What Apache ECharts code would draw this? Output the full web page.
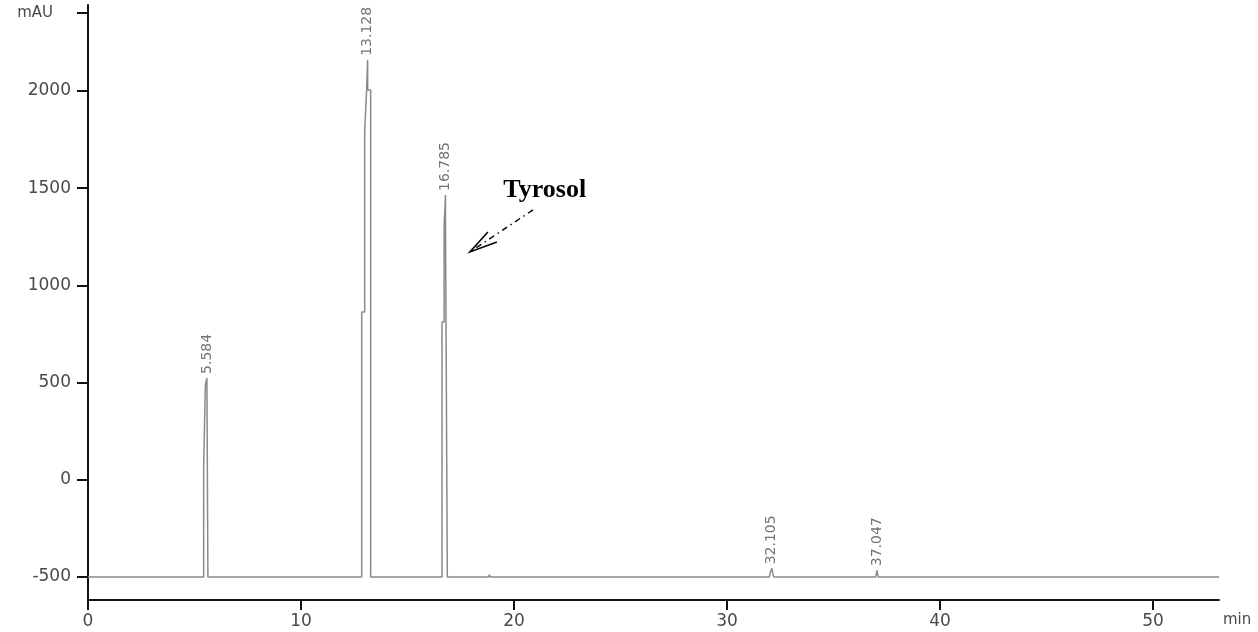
<!DOCTYPE html>
<html>
<head>
<meta charset="utf-8">
<title>Chromatogram – Tyrosol</title>
<script src="https://cdn.jsdelivr.net/npm/echarts@6/dist/echarts.min.js"></script>
<style>
  html, body { margin: 0; padding: 0; background: #ffffff; }
  #chart { width: 1258px; height: 632px; }
</style>
</head>
<body>
<div id="chart"></div>
<script>
// Detector baseline and run length (min)
const baselineLevel = -500;
const runEnd = 53.1;

// Retention times (min) printed above each peak, and apex signal (mAU)
const retentionTimes = [5.584, 13.128, 16.785, 32.105, 37.047];
const apexHeights = [524, 2160, 1465, -455, -465];

const peak1 = [[5.43, -500], [5.43, 60], [5.51, 60], [5.51, 488], [5.584, 488], [5.584, 524], [5.584, 488], [5.63, 488], [5.63, -500]];
const peak2 = [[12.85, -500], [12.85, 863], [12.99, 863], [12.99, 1789], [13.08, 1789], [13.08, 2005], [13.128, 2005], [13.128, 2160], [13.128, 2005], [13.27, 2005], [13.27, -500]];
const peak3 = [[16.62, -500], [16.62, 812], [16.72, 812], [16.72, 1311], [16.785, 1311], [16.785, 1465], [16.785, 1311], [16.87, 1311], [16.87, -500]];
const peak4 = [[31.98, -500], [32.05, -472], [32.105, -455], [32.16, -485], [32.2, -500]];
const peak5 = [[36.98, -500], [37.047, -465], [37.1, -500]];

// Small baseline disturbances
const minorBumps = [[18.8, -500], [18.85, -489], [18.9, -500], [23.95, -500], [24.0, -493], [24.05, -500],
                    [28.45, -500], [28.5, -493], [28.55, -500], [33.75, -500], [33.8, -493], [33.85, -500]];

// Axis ticks
const yTicks = [-500, 0, 500, 1000, 1500, 2000, 2400];
const yUnitTick = 2400;
const yUnit = 'mAU';
const xTicks = [0, 10, 20, 30, 40, 50];
const xUnit = 'min';

// Annotation
const annotationText = 'Tyrosol';
const annotationAnchor = [19.5, 1490];
const arrowFrom = [20.89, 1388];
const arrowTo = [17.93, 1172];

const trace = [[0, baselineLevel]]
  .concat(peak1, peak2, peak3, minorBumps, peak4, peak5, [[runEnd, baselineLevel]])
  .sort((a, b) => a[0] - b[0]);

const labelFont = 'DejaVu Sans, Arial, sans-serif';
const axisTextColor = '#4a4a4a';

const chart = echarts.init(document.getElementById('chart'), null, { renderer: 'canvas' });

const option = {
  animation: false,
  backgroundColor: '#ffffff',
  grid: { left: 88, right: 39, top: 5, bottom: 32 },
  xAxis: {
    type: 'value',
    min: 0,
    max: runEnd,
    name: xUnit,
    nameLocation: 'end',
    nameGap: 4,
    nameTextStyle: {
      fontFamily: labelFont, fontSize: 15, color: axisTextColor,
      verticalAlign: 'top', align: 'left', padding: [13, 0, 0, 0]
    },
    axisLine: { onZero: false, lineStyle: { color: '#111', width: 2 } },
    axisTick: { show: true, length: 10, inside: false, customValues: xTicks, lineStyle: { color: '#111', width: 2 } },
    axisLabel: { customValues: xTicks, margin: 13, fontFamily: labelFont, fontSize: 17, color: axisTextColor },
    splitLine: { show: false }
  },
  yAxis: {
    type: 'value',
    min: -618,
    max: 2442,
    axisLine: { onZero: false, lineStyle: { color: '#111', width: 2 } },
    axisTick: { show: true, length: 11, customValues: yTicks, lineStyle: { color: '#111', width: 2 } },
    axisLabel: {
      customValues: yTicks,
      margin: 17,
      fontFamily: labelFont, fontSize: 17, color: axisTextColor,
      formatter: v => (v === yUnitTick ? '{u|' + yUnit + '}' : String(v)),
      rich: {
        u: { fontFamily: labelFont, fontSize: 15, color: axisTextColor, padding: [0, 18, 0, 0] }
      }
    },
    splitLine: { show: false }
  },
  series: [
    {
      name: 'signal',
      type: 'line',
      data: trace,
      showSymbol: false,
      symbol: 'none',
      lineStyle: { color: '#8a8a8a', width: 1.5 },
      silent: true,
      z: 2
    },
    {
      name: 'retention times',
      type: 'scatter',
      data: retentionTimes.map((t, i) => [t, apexHeights[i]]),
      symbolSize: 0,
      silent: true,
      label: {
        show: true,
        position: 'top',
        distance: 4,
        rotate: 90,
        align: 'left',
        verticalAlign: 'middle',
        fontFamily: labelFont,
        fontSize: 14,
        color: '#505050',
        formatter: p => p.value[0].toFixed(3)
      },
      z: 3
    }
  ]
};

chart.setOption(option);

// Annotation arrow and name, placed in data coordinates
const px = c => chart.convertToPixel({ gridIndex: 0 }, c);
const a0 = px(arrowFrom);
const a1 = px(arrowTo);
const tp = px(annotationAnchor);
chart.setOption({
  graphic: [
    {
      type: 'text',
      x: tp[0], y: tp[1],
      style: {
        text: annotationText,
        font: 'bold 26px "Liberation Serif", "Times New Roman", serif',
        fill: '#000000',
        textAlign: 'left',
        textVerticalAlign: 'middle'
      }
    },
    {
      type: 'line',
      shape: { x1: a0[0], y1: a0[1], x2: a1[0] + 6, y2: a1[1] - 4 },
      style: { stroke: '#000', lineWidth: 1.4, lineDash: [6, 4, 1.5, 4] }
    },
    {
      type: 'polyline',
      shape: { points: [[a1[0] + 18, a1[1] - 20], [a1[0], a1[1]], [a1[0] + 27, a1[1] - 10]] },
      style: { stroke: '#000', lineWidth: 1.6, fill: null }
    }
  ]
});
</script>
</body>
</html>
